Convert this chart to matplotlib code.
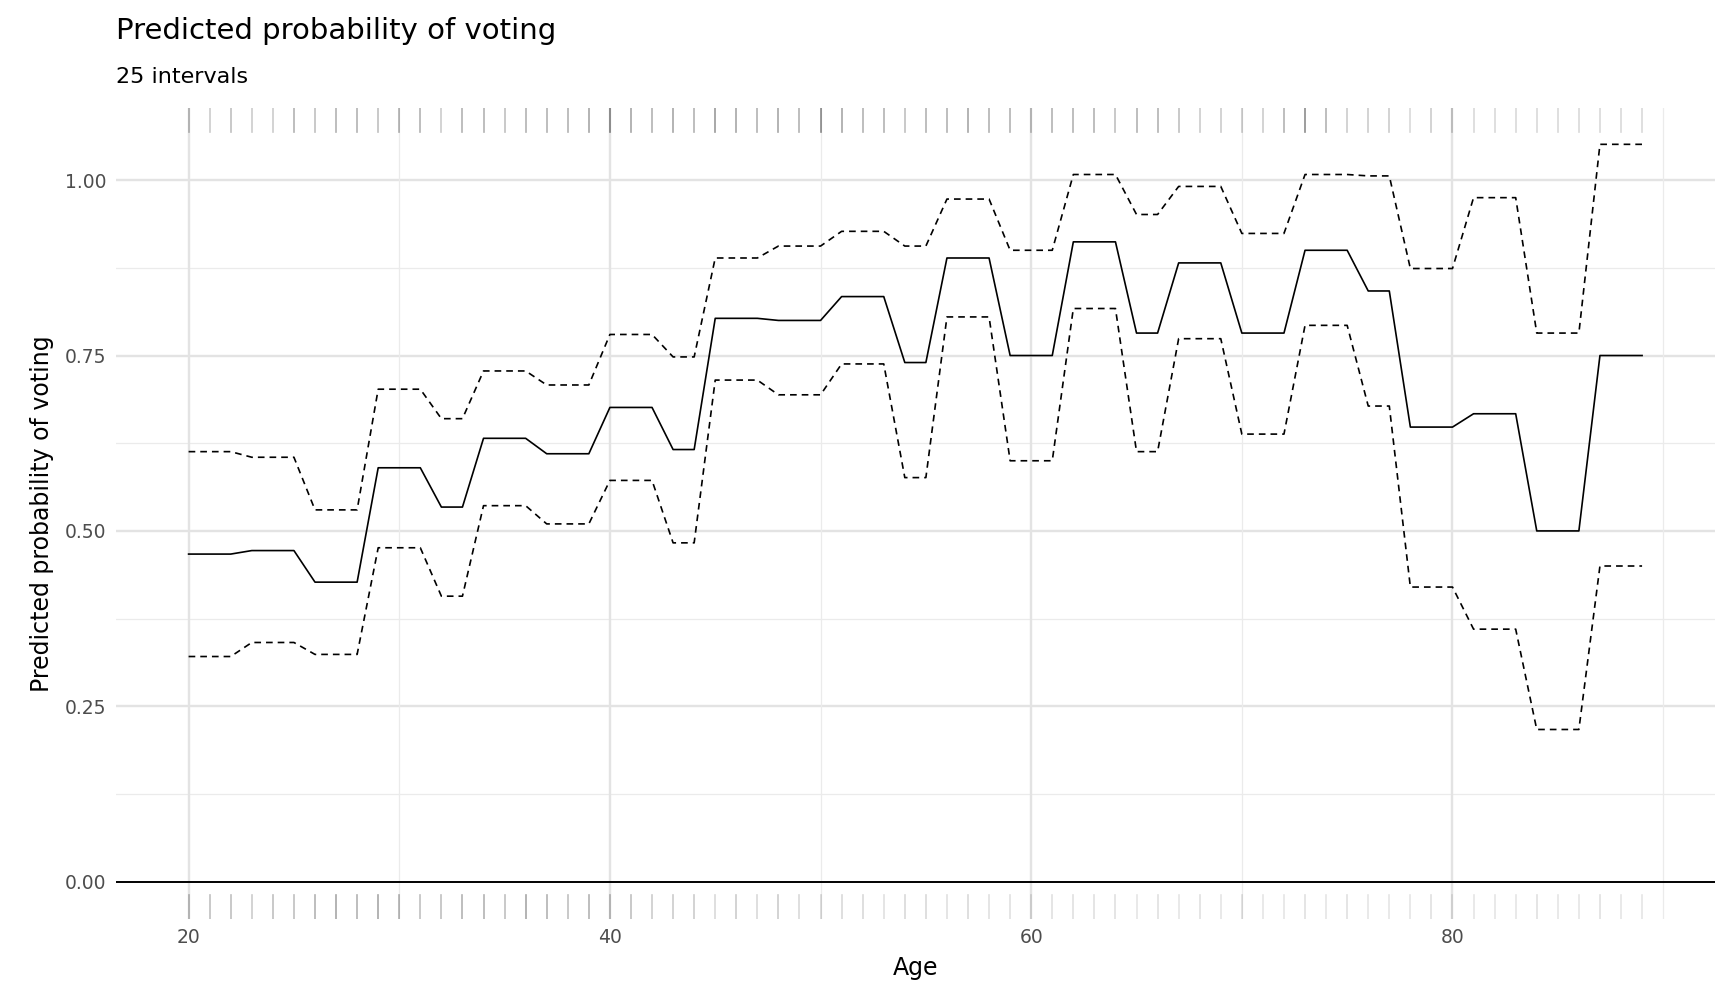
import matplotlib.pyplot as plt
import numpy as np

# interval start/end ages and predicted values
starts = [20, 23, 26, 29, 32, 34, 37, 40, 43, 45, 48, 51, 54, 56, 59, 62, 65, 67, 70, 73, 76, 78, 81, 84, 87]
ends   = [22, 25, 28, 31, 33, 36, 39, 42, 44, 47, 50, 53, 55, 58, 61, 64, 66, 69, 72, 75, 77, 80, 83, 86, 89]
fit   = [0.467, 0.472, 0.427, 0.590, 0.534, 0.632, 0.610, 0.676, 0.616, 0.803, 0.800, 0.834, 0.740,
         0.889, 0.750, 0.912, 0.782, 0.882, 0.782, 0.900, 0.842, 0.648, 0.667, 0.500, 0.750]
upper = [0.613, 0.605, 0.530, 0.702, 0.660, 0.728, 0.708, 0.780, 0.748, 0.889, 0.906, 0.927, 0.906,
         0.973, 0.900, 1.008, 0.951, 0.991, 0.924, 1.008, 1.006, 0.874, 0.975, 0.782, 1.051]
lower = [0.321, 0.341, 0.324, 0.476, 0.407, 0.536, 0.510, 0.572, 0.483, 0.715, 0.694, 0.738, 0.576,
         0.805, 0.600, 0.817, 0.613, 0.774, 0.638, 0.793, 0.678, 0.420, 0.360, 0.217, 0.450]

# rug shading per age 20..89 (voters on top, non-voters at bottom), guessed from tick darkness
top_alpha = [0.25, 0.2, 0.25, 0.2, 0.2, 0.3, 0.25, 0.3, 0.3, 0.25, 0.3, 0.3, 0.2, 0.3, 0.3, 0.25, 0.3, 0.3, 0.3, 0.35,
             0.45, 0.35, 0.3, 0.35, 0.3, 0.4, 0.35, 0.3, 0.35, 0.3, 0.45, 0.35, 0.3, 0.3, 0.25, 0.3, 0.3, 0.35, 0.3, 0.3,
             0.25, 0.3, 0.3, 0.3, 0.25, 0.3, 0.3, 0.25, 0.2, 0.2, 0.2, 0.2, 0.3, 0.45, 0.3, 0.2, 0.2, 0.2, 0.15, 0.2,
             0.2, 0.15, 0.15, 0.15, 0.15, 0.15, 0.15, 0.15, 0.15, 0.15]
bot_alpha = [0.25, 0.25, 0.25, 0.2, 0.25, 0.25, 0.3, 0.35, 0.3, 0.35, 0.3, 0.25, 0.25, 0.3, 0.3, 0.25, 0.35, 0.3, 0.25, 0.3,
             0.25, 0.25, 0.2, 0.2, 0.2, 0.15, 0.2, 0.15, 0.2, 0.15, 0.15, 0.15, 0.15, 0.12, 0.15, 0.15, 0.12, 0.15, 0.12, 0.12,
             0.12, 0.12, 0.12, 0.12, 0.12, 0.1, 0.12, 0.1, 0.12, 0.1, 0.12, 0.1, 0.1, 0.12, 0.1, 0.12, 0.1, 0.1, 0.1, 0.12,
             0.1, 0.1, 0.1, 0.1, 0.12, 0.1, 0.1, 0.12, 0.1, 0.1]

ages, f, u, l = [], [], [], []
for s, e, a, b, c in zip(starts, ends, fit, upper, lower):
    for age in range(s, e + 1):
        ages.append(age); f.append(a); u.append(b); l.append(c)

W, H = 1565, 913  # reference pixel frame used for layout fractions
fig = plt.figure(figsize=(17.28, 10.08), dpi=100)
ax = fig.add_axes([105 / W, 1 - 832 / H, (1553 - 105) / W, (832 - 98) / H])
ax.set_xlim(16.55, 92.45)
ax.set_ylim(-0.0525, 1.1025)

for y in [0.125, 0.375, 0.625, 0.875]:
    ax.axhline(y, color='#ebebeb', lw=0.9, zorder=0)
for y in [0.25, 0.5, 0.75, 1.0]:
    ax.axhline(y, color='#e3e3e3', lw=1.7, zorder=0)
for x in [30, 50, 70, 90]:
    ax.axvline(x, color='#ebebeb', lw=0.9, zorder=0)
for x in [20, 40, 60, 80]:
    ax.axvline(x, color='#e3e3e3', lw=1.7, zorder=0)

ax.axhline(0, color='black', lw=1.4)
ax.plot(ages, f, color='black', lw=1.2)
ax.plot(ages, u, color='black', lw=1.2, ls=(0, (4, 3)))
ax.plot(ages, l, color='black', lw=1.2, ls=(0, (4, 3)))

rug_ages = np.arange(20, 90)
for age, ta, ba in zip(rug_ages, top_alpha, bot_alpha):
    ax.plot([age, age], [1.1025 - 0.034, 1.1025], color='black', alpha=ta, lw=1.2)
    ax.plot([age, age], [-0.0525, -0.0525 + 0.034], color='black', alpha=ba, lw=1.2)

for s in ax.spines.values():
    s.set_visible(False)
ax.tick_params(length=0, labelsize=13.5, labelcolor='#4d4d4d', pad=7)
ax.set_xticks([20, 40, 60, 80])
ax.set_yticks([0, 0.25, 0.5, 0.75, 1.0])
ax.set_yticklabels(['0.00', '0.25', '0.50', '0.75', '1.00'])
ax.set_xlabel('Age', fontsize=17, labelpad=6)
ax.set_ylabel('Predicted probability of voting', fontsize=17, labelpad=8)
fig.text(105 / W, 1 - 28 / H, 'Predicted probability of voting', fontsize=21, va='center')
fig.text(105 / W, 1 - 70 / H, '25 intervals', fontsize=16, va='center')

plt.savefig('out.png', dpi=100)
